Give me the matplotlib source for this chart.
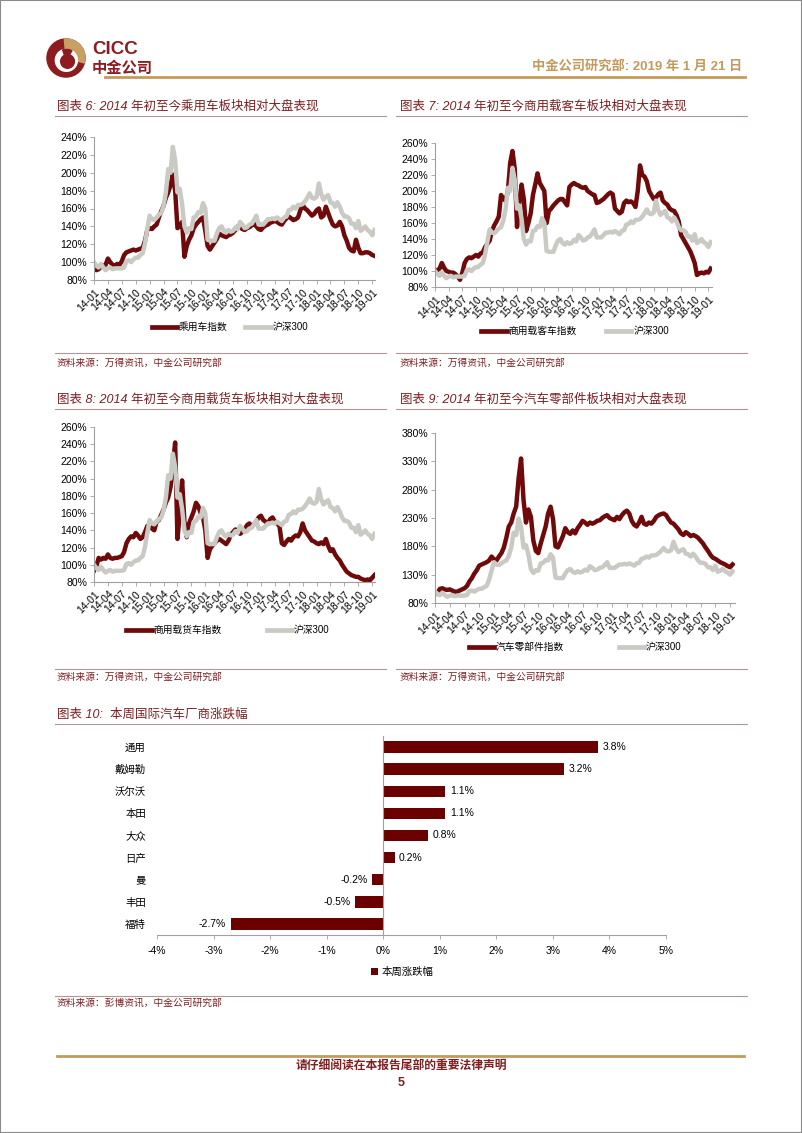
import matplotlib
matplotlib.use('Agg')
import matplotlib.pyplot as plt
import numpy as np
from matplotlib.patches import Circle, Wedge, Rectangle
from matplotlib.lines import Line2D

plt.rcParams['font.family'] = ['Liberation Sans', 'Noto Sans CJK SC']

# half-monthly readings, 2014-01 .. 2019-01 (index / 2 = months since 2014-01)
hs300 = [100, 96, 94, 98, 94, 91, 93, 94, 92, 93, 93, 93, 93, 94, 101, 102, 100, 103, 105, 105, 108, 110, 121, 137,
         152, 148, 147, 150, 153, 155, 163, 178, 204, 200, 229, 214, 178, 182, 165, 140, 133, 138, 137, 150, 151, 156, 155, 166,
         160, 125, 124, 124, 124, 132, 138, 140, 135, 133, 136, 134, 135, 139, 137, 145, 142, 138, 139, 142, 143, 147, 152, 142,
         142, 142, 145, 148, 148, 149, 148, 150, 148, 146, 150, 151, 158, 159, 162, 160, 164, 164, 165, 168, 172, 177, 172, 171,
         173, 188, 176, 170, 173, 175, 167, 166, 162, 167, 162, 155, 151, 151, 149, 143, 143, 138, 146, 135, 137, 140, 136, 134,
         130, 136]

passenger = [97, 91, 92, 95, 96, 97, 104, 100, 97, 96, 98, 97, 101, 108, 111, 112, 113, 114, 113, 114, 115, 116, 124, 136,
             138, 137, 140, 142, 150, 157, 163, 172, 178, 186, 198, 180, 138, 140, 145, 106, 118, 125, 130, 138, 142, 145, 148, 150,
             135, 118, 114, 118, 122, 126, 132, 130, 129, 128, 130, 131, 133, 136, 140, 139, 137, 136, 138, 139, 141, 143, 140, 137,
             136, 139, 141, 142, 144, 145, 146, 145, 143, 142, 146, 149, 151, 149, 147, 148, 150, 158, 164, 160, 158, 155, 152, 154,
             158, 160, 150, 152, 162, 155, 148, 142, 140, 141, 145, 140, 130, 124, 116, 113, 112, 125, 116, 110, 110, 111, 111, 110,
             108, 107]

bus = [100, 101, 103, 110, 104, 100, 99, 98, 98, 96, 93, 89, 98, 110, 115, 117, 116, 118, 120, 118, 122, 123, 130, 134,
       138, 150, 157, 162, 168, 195, 190, 188, 200, 235, 250, 228, 155, 185, 208, 190, 150, 160, 172, 195, 208, 222, 210, 205,
       200, 160, 175, 178, 182, 185, 188, 190, 190, 186, 182, 205, 208, 210, 208, 207, 205, 204, 205, 200, 198, 196, 195, 185,
       186, 188, 190, 193, 196, 198, 196, 178, 175, 172, 174, 185, 188, 186, 187, 185, 180, 200, 232, 220, 218, 212, 200, 195,
       190, 192, 196, 198, 188, 185, 183, 178, 176, 175, 170, 162, 145, 140, 135, 130, 125, 118, 110, 95, 97, 98, 97, 99,
       98, 103]

truck = [93, 98, 108, 106, 108, 107, 112, 108, 107, 108, 108, 109, 110, 115, 125, 130, 133, 132, 137, 134, 130, 132, 138, 145,
         147, 142, 140, 150, 152, 158, 164, 172, 178, 190, 215, 242, 130, 160, 198, 150, 132, 148, 155, 162, 172, 168, 160, 155,
         140, 108, 118, 122, 125, 128, 130, 128, 126, 124, 128, 135, 138, 141, 140, 136, 138, 141, 146, 148, 145, 147, 150, 155,
         157, 152, 150, 148, 153, 155, 150, 148, 145, 125, 123, 127, 130, 128, 132, 134, 133, 138, 148, 140, 136, 132, 128, 127,
         125, 124, 126, 124, 130, 122, 116, 118, 112, 108, 105, 100, 96, 92, 90, 88, 87, 86, 86, 84, 83, 82, 83, 82,
         85, 88]

parts = [95, 98, 105, 106, 104, 103, 104, 102, 100, 100, 102, 104, 106, 110, 118, 124, 132, 138, 146, 148, 150, 152, 155, 162,
         157, 155, 162, 168, 178, 195, 215, 222, 238, 250, 300, 335, 262, 222, 245, 232, 190, 172, 168, 185, 200, 215, 238, 250,
         228, 180, 178, 188, 198, 212, 205, 202, 208, 203, 212, 218, 225, 222, 218, 222, 220, 222, 225, 226, 230, 233, 235, 230,
         228, 226, 232, 228, 235, 240, 243, 238, 225, 218, 215, 222, 232, 220, 218, 222, 220, 225, 232, 235, 237, 238, 235, 228,
         222, 220, 215, 210, 203, 200, 205, 202, 198, 200, 198, 195, 190, 185, 178, 172, 165, 160, 158, 155, 152, 150, 148, 145,
         143, 148]

xlabels = ['14-01', '14-04', '14-07', '14-10', '15-01', '15-04', '15-07', '15-10', '16-01', '16-04', '16-07',
           '16-10', '17-01', '17-04', '17-07', '17-10', '18-01', '18-04', '18-07', '18-10', '19-01']

makers = ['通用', '戴姆勒', '沃尔沃', '本田', '大众', '日产', '曼', '丰田', '福特']
weekly = [3.8, 3.2, 1.1, 1.1, 0.8, 0.2, -0.2, -0.5, -2.7]

RED = '#700a0a'
GRAY = '#cacac4'
TRED = '#7d1f22'
GOLD = '#c49a5c'
RULE = '#b49494'

W, H = 802, 1133
fig = plt.figure(figsize=(W / 100, H / 100), dpi=100)


def box(x0, y0, x1, y1):
    return [x0 / W, 1 - y1 / H, (x1 - x0) / W, (y1 - y0) / H]


def fx(x):
    return x / W


def fy(y):
    return 1 - y / H


def hline(x0, x1, y, color=RULE, lw=0.8):
    fig.add_artist(Line2D([fx(x0), fx(x1)], [fy(y), fy(y)], transform=fig.transFigure, color=color, lw=lw))


def text(x, y, s, **kw):
    fig.text(fx(x), fy(y), s, va='center', **kw)


# page frame
fig.add_artist(Rectangle((0, 0), 1, 1, transform=fig.transFigure, fill=False, edgecolor='#8a8a8a', lw=1.5))

# logo
lax = fig.add_axes(box(46, 38, 86, 78))
lax.set_xlim(-1.05, 1.05)
lax.set_ylim(-1.05, 1.05)
lax.set_aspect('equal')
lax.axis('off')
lax.add_patch(Circle((0, 0), 1, color='#8e1b1f'))
lax.add_patch(Wedge((0, 0), 1, -15, 95, color='#c9a063'))
lax.add_patch(Circle((0.02, -0.12), 0.58, color='white'))
lax.add_patch(Circle((0.08, -0.18), 0.36, color='#8e1b1f'))
lax.add_patch(Wedge((0.02, -0.12), 0.58, 60, 110, color='#8e1b1f'))
text(92, 50, 'CICC', fontsize=13.5, fontweight='bold', color='#8e1b1f')
text(92, 68, '中金公司', fontsize=11, fontweight='bold', color='#8e1b1f')

# header
text(742, 66, '中金公司研究部: 2019 年 1 月 21 日', ha='right', fontsize=9.5, fontweight='bold', color=GOLD)
hline(105, 745, 77, color=GOLD, lw=2)

t = np.arange(len(hs300)) / 2


def line_chart(rect, sector, name, ylim, yticks, xmax, leg_c, leg_y, gap):
    ax = fig.add_axes(box(*rect))
    ax.plot(t, sector, color=RED, lw=3.2, label=name)
    ax.plot(t, hs300, color=GRAY, lw=3.2, label='沪深300')
    ax.set_xlim(0, xmax)
    ax.set_ylim(*ylim)
    ax.set_yticks(yticks)
    ax.set_yticklabels([f'{v}%' for v in yticks], fontsize=7.5)
    ax.set_xticks(np.arange(0, 61, 3))
    ax.set_xticklabels(xlabels, rotation=45, ha='right', rotation_mode='anchor', fontsize=7.5)
    for s in ('top', 'right'):
        ax.spines[s].set_visible(False)
    for s in ('left', 'bottom'):
        ax.spines[s].set_color('#a0a0a0')
        ax.spines[s].set_linewidth(0.8)
    ax.tick_params(length=3, width=0.6, color='#a0a0a0', pad=2)
    ax.patch.set_alpha(0)
    leg = ax.legend(loc='center', bbox_to_anchor=(fx(leg_c), fy(leg_y)), bbox_transform=fig.transFigure,
                    ncol=2, frameon=False, fontsize=7, handlelength=2.6, handletextpad=0.2, columnspacing=gap)
    for h in leg.get_lines():
        h.set_linewidth(3.4)
    return ax


# charts 6 and 7
text(57, 106, '图表 6: 2014 年初至今乘用车板块相对大盘表现', fontsize=9, color=TRED, style='italic')
text(400, 106, '图表 7: 2014 年初至今商用载客车板块相对大盘表现', fontsize=9, color=TRED, style='italic')
hline(55, 386, 116)
hline(396, 747, 116)
line_chart((94, 137, 375, 280), passenger, '乘用车指数', (80, 240), range(80, 241, 20), 60.6, 230, 327, 1.8)
line_chart((435, 143, 712, 287), bus, '商用载客车指数', (80, 260), range(80, 261, 20), 60.8, 575, 331, 3.0)
hline(55, 386, 353)
hline(396, 747, 353)
text(57, 363, '资料来源：万得资讯，中金公司研究部', fontsize=7, color=TRED, style='italic')
text(400, 363, '资料来源：万得资讯，中金公司研究部', fontsize=7, color=TRED, style='italic')

# charts 8 and 9
text(57, 399, '图表 8: 2014 年初至今商用载货车板块相对大盘表现', fontsize=9, color=TRED, style='italic')
text(400, 399, '图表 9: 2014 年初至今汽车零部件板块相对大盘表现', fontsize=9, color=TRED, style='italic')
hline(55, 386, 409)
hline(396, 747, 409)
line_chart((94, 427, 375, 582), truck, '商用载货车指数', (80, 260), range(80, 261, 20), 60.6, 228, 630, 4.6)
line_chart((435, 433, 735, 603), parts, '汽车零部件指数', (80, 380), range(80, 381, 50), 61.0, 575, 647, 5.6)
hline(55, 386, 669)
hline(396, 747, 669)
text(57, 677, '资料来源：万得资讯，中金公司研究部', fontsize=7, color=TRED, style='italic')
text(400, 677, '资料来源：万得资讯，中金公司研究部', fontsize=7, color=TRED, style='italic')

# chart 10
text(57, 714, '图表 10:  本周国际汽车厂商涨跌幅', fontsize=9, color=TRED, style='italic')
hline(55, 747, 724)
bx = fig.add_axes(box(157, 736, 666, 935))
pos = np.arange(len(makers))
bars = bx.barh(pos, weekly, height=0.52, color='#6a0000', label='本周涨跌幅')
bx.set_ylim(len(makers) - 0.5, -0.5)
bx.set_xlim(-4, 5)
bx.axvline(0, color='#a0a0a0', lw=0.8)
bx.set_yticks(pos)
bx.set_yticklabels(makers, fontsize=7.5)
bx.set_xticks(range(-4, 6))
bx.set_xticklabels([f'{v}%' for v in range(-4, 6)], fontsize=7.5)
bx.tick_params(axis='y', length=0, pad=8)
bx.tick_params(axis='x', length=3, width=0.6, color='#a0a0a0', pad=5)
for s in ('top', 'right', 'left'):
    bx.spines[s].set_visible(False)
bx.spines['bottom'].set_color('#a0a0a0')
bx.spines['bottom'].set_linewidth(0.8)
for p, v in zip(pos, weekly):
    if v >= 0:
        bx.text(v + 0.08, p, f'{v:.1f}%', va='center', ha='left', fontsize=7.5)
    else:
        bx.text(v - 0.08, p, f'{v:.1f}%', va='center', ha='right', fontsize=7.5)
bx.patch.set_alpha(0)
bx.legend(handles=[bars], loc='center', bbox_to_anchor=(fx(402), fy(972)), bbox_transform=fig.transFigure,
          frameon=False, fontsize=7.5, handlelength=0.7, handleheight=0.7, handletextpad=0.3)
hline(55, 747, 996)
text(57, 1003, '资料来源：彭博资讯，中金公司研究部', fontsize=7, color=TRED, style='italic')

# footer
hline(57, 744, 1056, color=GOLD, lw=2)
text(401, 1067, '请仔细阅读在本报告尾部的重要法律声明', ha='center', fontsize=8.5, fontweight='bold',
     color=TRED, style='italic')
text(401, 1083, '5', ha='center', fontsize=9, fontweight='bold', color=TRED)

fig.savefig('out.png', dpi=100)
